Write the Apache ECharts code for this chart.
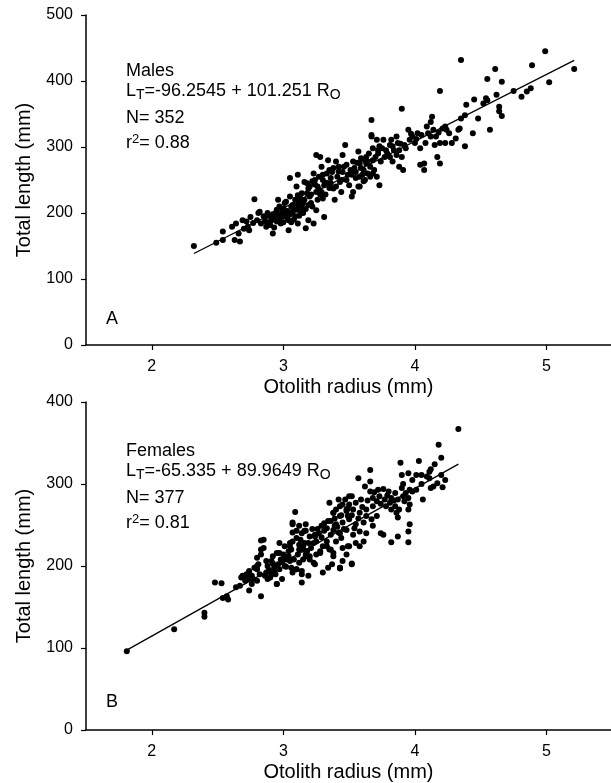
<!DOCTYPE html>
<html>
<head>
<meta charset="utf-8">
<title>Total length vs otolith radius</title>
<script src="https://cdn.jsdelivr.net/npm/echarts@6/dist/echarts.min.js"></script>
<style>
  html, body { margin: 0; padding: 0; background: #fff; }
  #chart { width: 611px; height: 783px; }
</style>
</head>
<body>
<div id="chart"></div>
<script>
const FONT = "'Liberation Sans', Arial, Helvetica, sans-serif";

const xTicks = [2, 3, 4, 5];

// [otolith radius (mm), total length (mm)]
const malePoints = [
  [2.32,150],[2.49,155],[2.54,159],[2.54,172],[2.61,179],[2.64,184],[2.63,159],[2.67,157],[2.66,169],[2.69,189],
  [2.73,179],[2.74,174],[2.72,187],[2.78,221],[2.81,200],[2.82,202],[2.80,189],[2.83,184],[2.86,187],[2.87,179],
  [2.90,195],[2.91,189],[2.92,169],[2.95,205],[2.96,197],[2.97,189],[2.98,184],[2.96,220],[3.00,207],[3.01,200],
  [3.02,195],[3.04,189],[3.02,217],[3.05,225],[3.04,174],[3.06,210],[3.07,202],[3.09,195],[3.05,253],[3.10,240],
  [3.11,258],[3.11,227],[3.12,217],[3.14,210],[3.15,200],[3.11,184],[3.17,177],[3.19,189],[3.16,247],[3.19,237],
  [3.20,225],[3.21,215],[3.23,260],[3.24,250],[3.25,232],[3.26,220],[3.25,204],[3.23,184],[3.25,288],[3.28,285],
  [3.29,270],[3.30,258],[3.31,242],[3.30,222],[3.31,194],[3.34,280],[3.35,265],[3.36,253],[3.38,237],[3.39,220],
  [3.40,278],[3.42,263],[3.43,247],[3.44,232],[3.45,288],[3.47,303],[3.48,273],[3.49,258],[3.50,242],[3.52,225],
  [3.53,278],[3.54,268],[3.55,253],[3.57,240],[3.53,232],[3.57,293],[3.59,283],[3.61,265],[3.62,250],[3.63,275],
  [3.64,260],[3.67,341],[3.67,318],[3.68,298],[3.68,280],[3.69,265],[3.66,255],[3.71,311],[3.72,290],
  [3.59,268],[3.58,255],[3.61,248],[3.58,240],[3.63,285],[3.64,278],[3.66,270],[3.68,260],[3.71,255],[3.67,316],
  [3.72,295],[3.73,301],[3.76,311],[3.73,242],[3.74,278],[3.77,285],[3.78,295],[3.81,303],[3.82,311],[3.83,301],
  [3.86,316],[3.87,306],[3.81,285],[3.83,278],[3.86,288],[3.88,295],[3.90,285],[3.92,303],[3.88,270],[3.91,265],
  [3.90,358],[3.95,326],[3.96,311],[3.98,316],[4.00,306],[4.02,321],[4.04,298],[4.04,273],[4.07,275],[4.07,265],
  [4.09,331],[4.10,321],[4.12,316],[4.14,326],[4.12,338],[4.13,346],[4.15,303],[4.16,316],[4.17,285],[4.19,275],
  [4.19,385],[4.19,306],[4.21,328],[4.23,331],[4.24,326],[4.23,306],[4.26,321],[4.28,306],[4.31,313],[4.33,326],
  [4.34,328],[4.38,301],[4.35,432],[4.35,343],[4.38,348],[4.39,364],[4.44,321],[4.45,372],[4.48,343],[4.52,366],
  [4.54,374],[4.55,371],[4.57,326],[4.55,403],[4.61,418],[4.62,379],[4.66,399],[4.64,361],[4.64,354],[4.66,347],
  [4.75,385],[4.81,376],[4.85,384],[4.88,389],[4.89,424],[4.99,445],[5.02,398],[5.21,418],
  [2.85,195],[2.88,200],[2.90,182],[2.93,192],[2.94,200],[2.97,210],[2.99,194],[3.00,186],[3.03,203],[3.05,198],
  [3.07,212],[3.08,190],[3.10,205],[3.12,196],[3.13,222],[3.15,215],[3.17,206],[3.18,230],[3.20,240],[3.22,210],
  [3.24,243],[3.27,236],[3.28,228],[3.30,250],[3.33,246],[3.35,238],[3.37,262],[3.41,255],[3.46,270],[3.51,265],
  [3.56,276],[3.60,258],[3.44,250],[3.38,268],[3.27,255],[3.18,245],[3.09,220],[3.01,215],[2.93,178],[2.77,185],
  [2.75,194],[2.70,176],
  [2.86,193],[2.89,186],[2.92,198],[2.95,187],[2.99,202],[3.03,193],[3.06,186],[3.08,205],[3.11,212],[3.13,203],
  [3.14,230],[3.16,220],[3.19,212],[3.21,228],[3.22,248],[3.26,240],[3.29,232],[3.32,228],[3.33,260],[3.36,245],
  [3.40,240],[3.42,270],[3.45,262],[3.48,250],[3.52,258],[3.55,262],[3.58,275],[3.62,280],[3.65,290],[3.70,285],
  [3.75,298],[3.79,290],[3.84,295],[3.89,305],[3.93,298],[3.97,320],[4.01,312],[4.05,318],[4.08,306],[4.18,322]
];

// [otolith radius (mm), total length (mm)]
const femalePoints = [
  [1.81,96],[2.17,123],[2.40,143],[2.40,138],[2.48,180],[2.53,179],[2.54,161],[2.57,163],[2.58,159],[2.64,174],
  [2.67,176],[2.71,182],[2.72,184],[2.76,178],[2.74,170],[2.80,182],[2.83,163],[2.88,184],[2.95,178],[2.99,184],
  [3.14,180],[2.68,186],[2.72,190],[2.73,184],[2.76,188],[2.77,184],[2.74,194],[2.80,196],[2.81,202],[2.80,210],
  [2.83,231],[2.85,222],[2.83,214],[2.86,188],[2.87,192],[2.90,186],[2.91,190],[2.93,194],[2.95,178],[2.88,200],
  [2.91,206],[2.93,198],[2.95,216],[2.97,228],[2.96,202],[2.98,208],[3.00,214],[3.01,200],[3.02,210],[3.04,218],
  [3.05,206],[3.06,198],[3.07,192],[3.10,196],[3.12,204],[3.15,208],[3.14,190],[3.05,224],[3.07,230],[3.10,234],
  [3.12,226],[3.15,220],[3.17,214],[3.07,253],[3.10,243],[3.09,266],[3.14,240],[3.17,251],[3.20,236],[3.23,228],
  [3.20,212],[3.23,204],[3.25,214],[3.28,218],[3.30,224],[3.33,230],[3.35,220],[3.24,238],[3.26,245],[3.29,249],
  [3.31,243],[3.34,255],[3.35,277],[3.38,265],[3.40,269],[3.36,255],[3.39,249],[3.42,241],[3.44,234],[3.43,198],
  [3.45,206],[3.48,214],[3.49,224],[3.42,281],[3.45,275],[3.48,269],[3.49,261],[3.50,285],
  [4.33,367],[4.18,348],[4.20,332],[4.15,324],[4.12,318],[4.11,315],[4.03,328],[4.01,311],[4.05,311],[4.09,309],
  [4.11,307],[4.20,311],[4.23,305],[4.14,297],[4.17,301],[4.12,295],[4.21,296],[4.06,281],[3.89,326],[3.95,313],
  [3.90,311],[4.01,293],[3.98,291],[3.96,293],[3.66,317],[3.57,307],[3.66,303],[3.62,297],[3.72,293],[3.76,294],
  [3.80,291],[3.85,289],[3.90,295],[3.93,289],[3.95,283],[3.92,279],[3.96,275],[3.95,269],[3.66,291],[3.68,283],
  [3.73,285],[3.77,281],[3.81,277],[3.85,273],[3.88,269],[3.87,259],[3.86,265],[3.82,269],[3.78,273],[3.82,283],
  [3.87,281],[3.91,285],[3.95,242],[3.96,251],[3.87,236],[3.82,229],[3.95,229],[3.76,238],[3.74,240],[3.47,281],
  [3.52,285],[3.50,275],[3.43,273],[3.55,277],[3.59,281],[3.63,269],[3.68,273],[3.71,279],[3.38,265],[3.43,261],
  [3.48,267],[3.53,269],[3.58,265],[3.63,261],[3.67,257],[3.71,261],[3.61,253],[3.55,251],[3.50,257],[3.45,253],
  [3.40,251],[3.38,244],[3.43,240],[3.48,244],[3.53,238],[3.58,242],[3.63,240],[3.68,249],[3.61,230],[3.55,228],
  [3.50,224],[3.45,222],[3.40,230],[3.36,220],[3.38,212],[3.58,224],[3.43,198],[3.52,202],[3.37,202],
  [3.17,243],[3.24,236],[3.15,224],[3.28,216],[3.20,208],[3.33,224],[3.38,216],[3.24,202],[3.34,198],[3.43,197],
  [3.52,203],[3.14,194],[3.19,188],[3.30,192],[3.07,251],[3.12,249],[3.16,243],[3.07,241],[3.05,228],[3.01,224],
  [2.97,216],[2.92,212],[2.87,206],[2.83,220],[2.85,232],[2.80,200],[2.74,192],[2.69,188],[3.02,208],[3.12,220],
  [3.17,212],[3.19,228],[3.10,196],
  [2.89,195],[2.92,203],[2.94,190],[2.97,196],[2.99,205],[3.02,199],[3.04,212],[3.06,220],[3.08,208],[3.11,214],
  [3.13,232],[3.16,228],[3.18,218],[3.21,222],[3.22,245],[3.25,230],[3.27,240],[3.29,235],[3.31,252],[3.33,246],
  [3.36,238],[3.39,258],[3.41,248],[3.44,262],[3.46,245],[3.49,270],[3.52,262],[3.54,246],[3.57,258],[3.60,272],
  [3.64,280],[3.69,290],[3.74,276],[3.79,286],[3.84,280],[3.91,300],[3.98,305],[4.05,300],[2.78,198],[2.82,190]
];

// regression fits, coefficients as printed on the figure
const maleFit = { intercept: -96.2545, slope: 101.251, xFrom: 2.32, xTo: 5.21 };
const femaleFit = { intercept: -65.335, slope: 89.9649, xFrom: 1.82, xTo: 4.33 };

function fitLine(fit) {
  return [fit.xFrom, fit.xTo].map(x => [x, fit.intercept + fit.slope * x]);
}

function xAxisFor(gridIndex) {
  return {
    gridIndex,
    type: 'value',
    min: 1.5,
    max: 5.49,
    name: 'Otolith radius (mm)',
    nameLocation: 'middle',
    nameGap: 32,
    nameTextStyle: { color: '#000', fontSize: 20, fontFamily: FONT },
    axisLine: { onZero: false, lineStyle: { color: '#000', width: 1.5 } },
    axisTick: { show: true, length: 5, customValues: xTicks, lineStyle: { color: '#000', width: 1.2 } },
    axisLabel: { customValues: xTicks, color: '#000', fontSize: 16, margin: 14, fontFamily: FONT },
    splitLine: { show: false }
  };
}

function yAxisFor(gridIndex, max) {
  return {
    gridIndex,
    type: 'value',
    min: 0,
    max,
    interval: 100,
    name: 'Total length (mm)',
    nameLocation: 'middle',
    nameGap: 52,
    nameTextStyle: { color: '#000', fontSize: 20, fontFamily: FONT },
    axisLine: { show: true, lineStyle: { color: '#000', width: 1.5 } },
    axisTick: { show: true, length: 5, lineStyle: { color: '#000', width: 1.2 } },
    axisLabel: { color: '#000', fontSize: 16, margin: 13, fontFamily: FONT },
    splitLine: { show: false }
  };
}

const rich = {
  m: { fontSize: 18, fontFamily: FONT, color: '#000' },
  sub: { fontSize: 14, fontFamily: FONT, color: '#000', padding: [9, 0, 0, 0] },
  sup: { fontSize: 13, fontFamily: FONT, color: '#000', padding: [0, 0, 8, 0] }
};

function textLine(x, y, text) {
  return {
    type: 'text',
    left: x,
    top: y,
    style: { text, rich, fill: '#000', font: '18px ' + FONT }
  };
}

// stats block: four lines at fixed offsets from the first line's top
function statBlock(top, sex, fit, n, r2) {
  const eq = `{m|L}{sub|T}{m|=${fit.intercept} + ${fit.slope} R}{sub|O}`;
  return [
    textLine(126, top, `{m|${sex}}`),
    textLine(126, top + 20, eq),
    textLine(126, top + 47, `{m|N= ${n}}`),
    textLine(126, top + 71, `{m|r}{sup|2}{m|= ${r2}}`)
  ];
}

const chart = echarts.init(document.getElementById('chart'), null, { renderer: 'canvas' });

chart.setOption({
  backgroundColor: '#fff',
  animation: false,
  grid: [
    { left: 86, right: 0, top: 15, height: 330 },
    { left: 86, right: 0, top: 402, height: 329 }
  ],
  xAxis: [xAxisFor(0), xAxisFor(1)],
  yAxis: [yAxisFor(0, 500), yAxisFor(1, 400)],
  series: [
    {
      type: 'scatter', xAxisIndex: 0, yAxisIndex: 0,
      data: malePoints, symbol: 'circle', symbolSize: 6,
      itemStyle: { color: '#000', opacity: 1 }
    },
    {
      type: 'line', xAxisIndex: 0, yAxisIndex: 0,
      data: fitLine(maleFit), showSymbol: false,
      lineStyle: { color: '#000', width: 1.3 }
    },
    {
      type: 'scatter', xAxisIndex: 1, yAxisIndex: 1,
      data: femalePoints, symbol: 'circle', symbolSize: 6,
      itemStyle: { color: '#000', opacity: 1 }
    },
    {
      type: 'line', xAxisIndex: 1, yAxisIndex: 1,
      data: fitLine(femaleFit), showSymbol: false,
      lineStyle: { color: '#000', width: 1.3 }
    }
  ],
  graphic: [
    ...statBlock(62, 'Males', maleFit, 352, '0.88'),
    ...statBlock(442, 'Females', femaleFit, 377, '0.81'),
    { type: 'text', left: 106, top: 310, style: { text: 'A', fill: '#000', font: '18px ' + FONT } },
    { type: 'text', left: 106, top: 693, style: { text: 'B', fill: '#000', font: '18px ' + FONT } }
  ]
});
</script>
</body>
</html>
